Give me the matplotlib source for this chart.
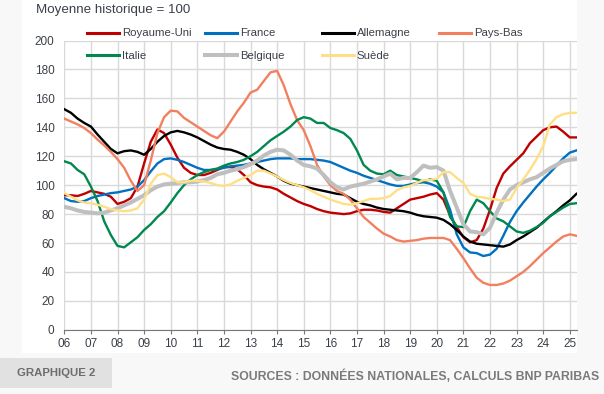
import matplotlib
matplotlib.use("Agg")
import matplotlib.pyplot as plt
from matplotlib.patches import Rectangle
from matplotlib.lines import Line2D
import numpy as np

# quarterly points, 2006Q1 .. 2025Q2
years = 2006 + 0.25 * np.arange(78)

royaume_uni = [
    93, 93, 92.5, 94,
    96, 95, 94, 92,
    87, 88.5, 91, 99,
    115, 130, 138.5, 136,
    128, 119, 112, 108.5,
    107, 107, 108.5, 110.5,
    112.5, 112.5, 111, 107,
    102, 100, 99, 98.5,
    97, 94, 91.5, 89,
    87, 85.5, 83.5, 82,
    81, 80.5, 80, 80.5,
    82, 83, 83, 82.5,
    81.5, 81, 84, 87,
    90, 91, 92, 93.5,
    94.5, 90, 79, 71,
    64, 60.5, 62, 70,
    83, 98, 108, 113,
    117.5, 122, 129, 133.5,
    138, 140, 140.5, 137,
    133, 133,
]
france = [
    91, 89, 88.5, 89,
    91, 92.5, 93.5, 94.5,
    95, 96, 97, 99,
    103.5, 109.5, 115, 118,
    118.5, 117.5, 116, 114,
    112, 110.5, 110.5, 111,
    112, 113, 113.5, 114,
    115, 116, 117, 118,
    118.5, 118.5, 118.5, 118,
    118, 118, 117.5, 117,
    116, 114, 112, 110,
    108.5, 106.5, 105, 103.5,
    102, 100.5, 99.5, 99.5,
    100.5, 101.5, 102, 101,
    99, 95, 83, 66,
    57, 53.5, 53, 51,
    52, 56, 65, 74.5,
    82, 88, 93.5, 99,
    104, 108.5, 113.5, 118.5,
    122.5, 124,
]
allemagne = [
    152.5, 150, 146, 143,
    140.5, 135, 130, 125,
    122, 123.5, 124, 123,
    121, 125, 130, 134,
    136.5, 137.5, 136.5, 135,
    133, 130.5, 128, 126,
    125, 124.5, 123, 121,
    118, 114, 111, 108.5,
    106, 103, 101, 100,
    99, 98, 97, 96,
    95, 94, 93.5, 91,
    88.5, 87, 86, 84.5,
    83.5, 83, 82.5, 82,
    81, 79.5, 78.5, 78,
    77.5, 76, 73, 69,
    64.5, 61, 59.5, 59,
    58.5, 58, 57.5, 59,
    62, 64.5, 67.5, 70.5,
    74.5, 78.5, 82, 86,
    89.5, 94,
]
pays_bas = [
    146, 144, 142, 139.5,
    136, 131.5, 127.5, 123,
    118, 112, 103, 96,
    100, 117, 136, 147,
    151.5, 151, 146.5, 143.5,
    140.5, 137.5, 134.5, 132.5,
    137, 144, 151, 157,
    164, 166, 172, 178,
    179, 169, 156, 145,
    138, 127, 114, 106,
    100, 96, 94, 90,
    84, 78, 74, 70,
    66.5, 64.5, 62, 61,
    61.5, 62, 63, 63.5,
    63.5, 63.5, 62, 56,
    49.5, 42.5, 36, 32.5,
    31, 31, 32, 34,
    37, 40, 44, 48.5,
    53, 57, 61, 64.5,
    66, 65,
]
italie = [
    116.5, 115, 110.5, 107.5,
    99, 89, 75, 65.5,
    58, 57, 60.5, 64,
    69, 73, 78, 82,
    88, 94.5, 100, 104,
    107, 109, 110.5, 111.5,
    113.5, 115, 116, 117.5,
    120, 123, 127, 131,
    134, 137, 140.5, 145,
    147, 146, 143, 143,
    139.5, 138, 136, 132,
    124, 114, 110, 108,
    107.5, 110, 107, 106,
    105, 104, 102.5, 104,
    103, 95, 78, 71.5,
    71, 82, 90, 87.5,
    82, 77, 75, 71.5,
    68, 67, 68.5, 71,
    74, 78.5, 81.5, 84.5,
    87, 87.5,
]
belgique = [
    85, 84, 82.5, 81.5,
    81, 80.5, 81, 82.5,
    84, 86, 88, 90.5,
    93, 96.5, 99, 100.5,
    101, 101.5, 102, 102,
    102.5, 103.5, 105, 107.5,
    108.5, 110, 111, 112.5,
    114.5, 117, 120.5, 123,
    124.5, 124, 121, 117,
    114, 113, 111.5, 107,
    102, 98.5, 97, 99,
    100, 101, 102.5, 104,
    106, 108, 104, 105,
    105, 109, 113.5, 112,
    112.5, 110, 96, 84.5,
    73, 68, 67.5, 66,
    70.5, 81, 90, 97,
    100, 102, 104, 105.5,
    108.5, 111.5, 114, 116.5,
    117.5, 118,
]
suede = [
    94.5, 92, 89.5, 88,
    87.5, 86.5, 85, 83.5,
    82.5, 82, 82.5, 84,
    90, 101, 107, 108,
    105.5, 102, 102, 103,
    103, 102.5, 101.5, 100,
    99.5, 100.5, 103, 105,
    107, 110, 110, 108,
    106, 103.5, 101.5, 100,
    98.5, 96.5, 94, 92,
    90, 88.5, 87, 86.5,
    87.5, 89, 90.5, 90.5,
    91, 92.5, 96.5, 98.5,
    99.5, 101.5, 103.5, 103.5,
    104.5, 109, 109, 105,
    101.5, 94, 92, 91.5,
    90.5, 90, 89, 90,
    98, 104, 110.5, 118,
    127, 142, 147, 149,
    150, 150,
]

series = [
    ("Royaume-Uni", royaume_uni, "#c00000", 1.7),
    ("France", france, "#0070c0", 1.7),
    ("Allemagne", allemagne, "#000000", 1.7),
    ("Pays-Bas", pays_bas, "#f2805f", 1.7),
    ("Italie", italie, "#00884f", 1.7),
    ("Belgique", belgique, "#bfbfbf", 2.9),
    ("Suède", suede, "#ffdf85", 1.7),
]
tick_years = list(range(2006, 2026))
tick_labels = [f"{y % 100:02d}" for y in tick_years]

plt.rcParams["font.family"] = ["Liberation Sans", "DejaVu Sans"]
text_col = "#3b4048"

W, H = 604, 394
fig = plt.figure(figsize=(W / 100, H / 100), dpi=100, facecolor="#f8f8f8")
fig.patches.append(Rectangle((22 / W, 41 / H), 555 / W, 1 - 41 / H,
                             transform=fig.transFigure, facecolor="white",
                             edgecolor="none", zorder=-10))

ax = fig.add_axes([64.3 / W, 64.2 / H, (577 - 64.3) / W, (329.8 - 40.5) / H])
ax.set_facecolor("white")
for name, vals, col, lw in series:
    ax.plot(years, vals, color=col, lw=lw, label=name, solid_joinstyle="round")

ax.set_xlim(2006, 2025.27)
ax.set_ylim(0, 200)
ax.set_xticks(tick_years)
ax.set_xticklabels(tick_labels)
ax.set_yticks(range(0, 201, 20))
ax.grid(True, color="#d9d9d9", lw=1)
ax.set_axisbelow(True)
for s in ["left", "right", "top"]:
    ax.spines[s].set_visible(False)
ax.spines["bottom"].set_color("#777777")
ax.tick_params(axis="x", length=2.9, color="#777777", labelsize=8.5, labelcolor=text_col, pad=3)
ax.tick_params(axis="y", length=0, labelsize=8.5, labelcolor=text_col, pad=7)

fig.text(36 / W, 1 - 10.5 / H, "Moyenne historique = 100", fontsize=9.6,
         color=text_col, va="center", ha="left")

# legend, laid out in four columns like the original
columns = [["Royaume-Uni", "Italie"], ["France", "Belgique"],
           ["Allemagne", "Suède"], ["Pays-Bas"]]
col_x = [87, 205, 322, 439]
styles = {name: (col, lw) for name, _, col, lw in series}
for names, cx in zip(columns, col_x):
    handles = [Line2D([], [], color=styles[n][0], lw=styles[n][1] if n == "Belgique" else 2.2)
               for n in names]
    leg = fig.legend(handles, names, loc="upper left",
                     bbox_to_anchor=(cx / W, 1 - 28.5 / H), frameon=False,
                     fontsize=8.2, handlelength=2.8, handletextpad=0.25,
                     borderpad=0, borderaxespad=0, labelspacing=1.1)
    for t in leg.get_texts():
        t.set_color(text_col)

# footer
fig.patches.append(Rectangle((0, 6 / H), 112 / W, 30 / H, transform=fig.transFigure,
                             facecolor="#e1e1e1", edgecolor="none"))
fig.text(56 / W, 1 - 373 / H, "GRAPHIQUE 2", fontsize=8.2, fontweight="bold",
         color="#6d6d6d", ha="center", va="center")
fig.text(599 / W, 1 - 376 / H, "SOURCES : DONNÉES NATIONALES, CALCULS BNP PARIBAS",
         fontsize=8.8, fontweight="bold", color="#7a7a7a", ha="right", va="center")

fig.savefig("out.png", dpi=100, facecolor=fig.get_facecolor())
